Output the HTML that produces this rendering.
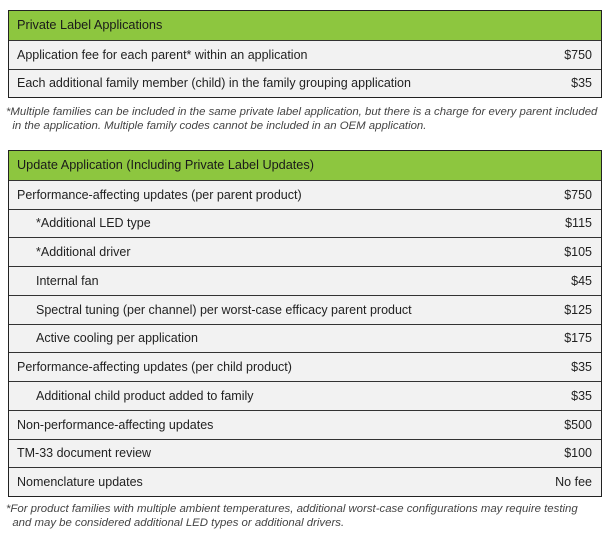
<!DOCTYPE html>
<html><head><style>
body{margin:0;width:611px;height:537px;background:#fff;font-family:"Liberation Sans",sans-serif;position:relative;overflow:hidden}
.t{position:absolute;left:8px;width:594px;border:1.5px solid #222;box-sizing:border-box}
.r{height:28.75px;box-sizing:border-box;border-top:1px solid #333;background:#f2f2f2;display:flex;align-items:center;justify-content:space-between;padding:0 9px 0 8px;font-size:12.5px;color:#222}
.r:first-child{border-top:none}
.h{background:#8dc63f;font-size:12.7px;color:#1a1a1a}
.i{padding-left:27px}
.n{position:absolute;left:6px;font-size:11.4px;font-style:italic;color:#444;line-height:13.5px;white-space:nowrap}
</style></head><body>
<div class="t" style="top:10px">
<div class="r h">Private Label Applications</div>
<div class="r"><span>Application fee for each parent* within an application</span><span>$750</span></div>
<div class="r"><span>Each additional family member (child) in the family grouping application</span><span>$35</span></div>
</div>
<div class="n" style="top:106px">*Multiple families can be included in the same private label application, but there is a charge for every parent included<br>&nbsp;&nbsp;in the application. Multiple family codes cannot be included in an OEM application.</div>
<div class="t" style="top:150px">
<div class="r h">Update Application (Including Private Label Updates)</div>
<div class="r"><span>Performance-affecting updates (per parent product)</span><span>$750</span></div>
<div class="r i"><span>*Additional LED type</span><span>$115</span></div>
<div class="r i"><span>*Additional driver</span><span>$105</span></div>
<div class="r i"><span>Internal fan</span><span>$45</span></div>
<div class="r i"><span>Spectral tuning (per channel) per worst-case efficacy parent product</span><span>$125</span></div>
<div class="r i"><span>Active cooling per application</span><span>$175</span></div>
<div class="r"><span>Performance-affecting updates (per child product)</span><span>$35</span></div>
<div class="r i"><span>Additional child product added to family</span><span>$35</span></div>
<div class="r"><span>Non-performance-affecting updates</span><span>$500</span></div>
<div class="r"><span>TM-33 document review</span><span>$100</span></div>
<div class="r"><span>Nomenclature updates</span><span>No fee</span></div>
</div>
<div class="n" style="top:503px">*For product families with multiple ambient temperatures, additional worst-case configurations may require testing<br>&nbsp;&nbsp;and may be considered additional LED types or additional drivers.</div>
</body></html>
